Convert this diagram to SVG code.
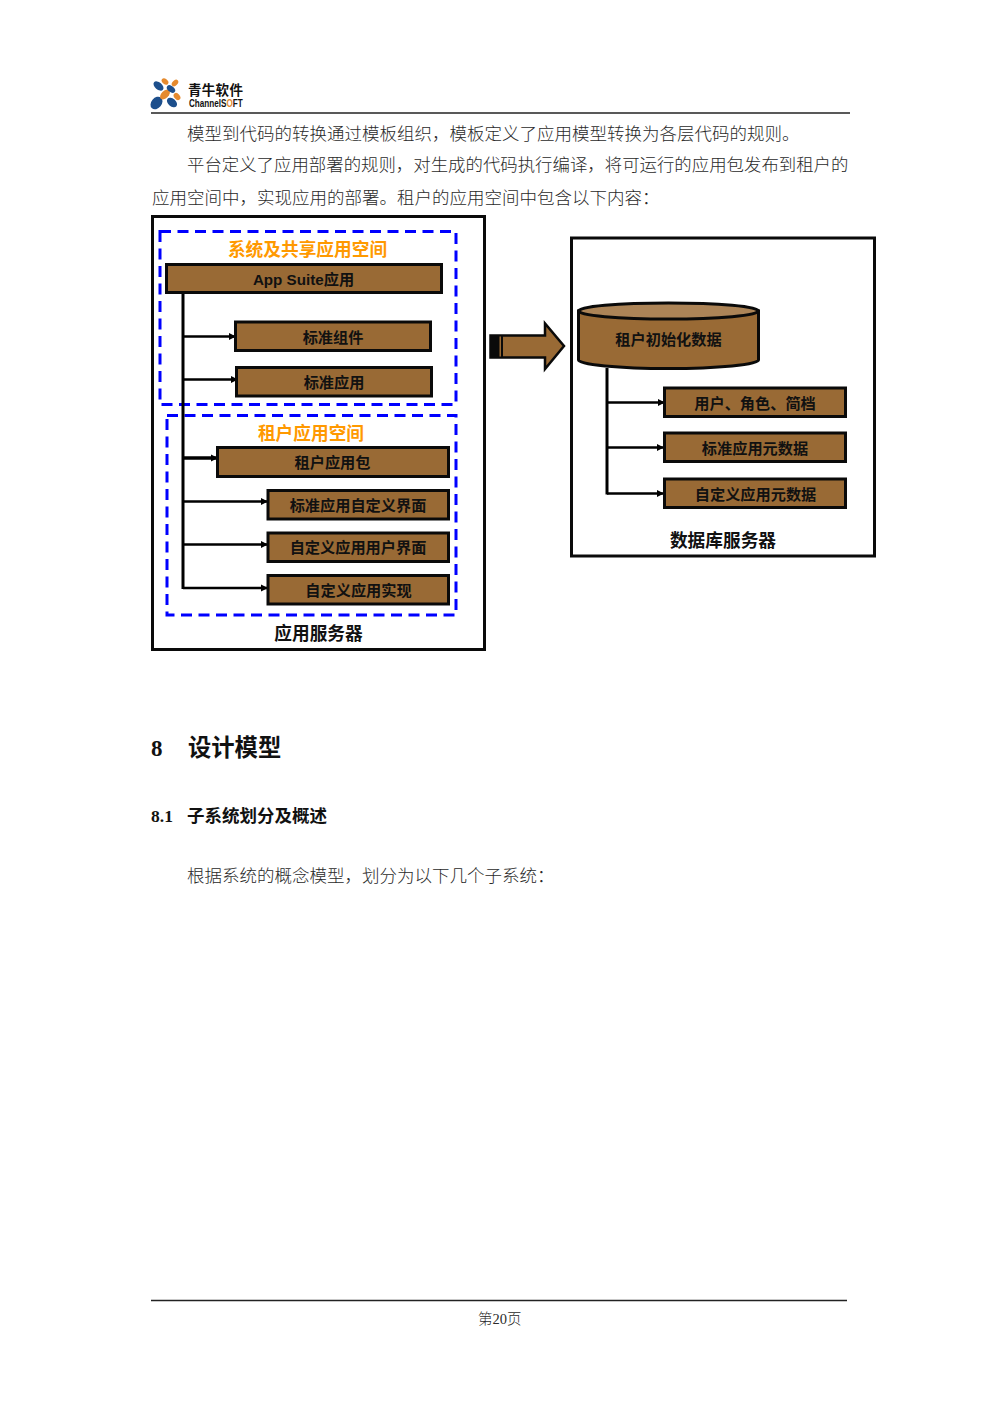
<svg xmlns="http://www.w3.org/2000/svg" width="1000" height="1415" viewBox="0 0 1000 1415">
<style>
text{font-family:"Liberation Sans","Noto Sans CJK SC",sans-serif;fill:#111}
.body{font-family:"Liberation Serif","Noto Sans CJK SC",serif;font-size:17.5px;fill:#2a2a2a;font-weight:300}
.serifb{font-family:"Liberation Serif","Noto Sans CJK SC",serif;font-weight:bold}
.b{font-weight:bold}
.m{font-size:15.2px;font-weight:bold;text-anchor:middle}
.t{font-size:17.7px;font-weight:bold;text-anchor:middle}
.o{fill:#ff9900}
.box{fill:#996a35;stroke:#0a0a0a;stroke-width:3}
.frame{fill:none;stroke:#0a0a0a;stroke-width:3}
.dash{fill:none;stroke:#0000ff;stroke-width:3;stroke-dasharray:11 6.5}
.conn{fill:none;stroke:#000;stroke-width:2.4}
.trunk{fill:none;stroke:#000;stroke-width:3}
.rule{stroke:#222;stroke-width:1.5}
</style>
<defs>
<marker id="ah" markerUnits="userSpaceOnUse" markerWidth="10" markerHeight="10" refX="8" refY="5" orient="auto">
<path d="M1 1.500 L8 5 L1 8.500 Z" fill="#000"/>
</marker>
</defs>
<rect width="1000" height="1415" fill="#fff"/>

<g id="header">
<g id="logo">
<ellipse cx="156.500" cy="103" rx="7" ry="5.200" transform="rotate(-50 156.500 103)" fill="#1d4f8c"/>
<ellipse cx="172" cy="102.500" rx="5.800" ry="3.800" transform="rotate(40 172 102.500)" fill="#1d4f8c"/>
<ellipse cx="165" cy="94.500" rx="6" ry="3.600" transform="rotate(-45 165 94.500)" fill="#e58a2e"/>
<ellipse cx="158.500" cy="86" rx="5.800" ry="3.600" transform="rotate(40 158.500 86)" fill="#1d4f8c"/>
<ellipse cx="171" cy="89" rx="4.800" ry="3" transform="rotate(40 171 89)" fill="#1d4f8c"/>
<ellipse cx="165" cy="81.500" rx="3.800" ry="2.600" transform="rotate(40 165 81.500)" fill="#e58a2e"/>
<ellipse cx="175" cy="83" rx="3.800" ry="2.600" transform="rotate(-45 175 83)" fill="#e58a2e"/>
<ellipse cx="177" cy="96.500" rx="4" ry="2.800" transform="rotate(50 177 96.500)" fill="#e58a2e"/>
<text x="188" y="95" font-size="13.500" class="b" letter-spacing="0.300">青牛软件</text>
<text transform="translate(189 107) scale(0.74 1)" font-size="11" class="b">ChannelS<tspan fill="#e58a2e">O</tspan>FT</text>
</g>
<line class="rule" x1="151" y1="113" x2="850" y2="113"/>
</g>

<g id="intro">
<text class="body" x="187" y="140">模型到代码的转换通过模板组织，模板定义了应用模型转换为各层代码的规则。</text>
<text class="body" x="187" y="171" style="font-size:17.42px">平台定义了应用部署的规则，对生成的代码执行编译，将可运行的应用包发布到租户的</text>
<text class="body" x="152" y="204">应用空间中，实现应用的部署。租户的应用空间中包含以下内容：</text>
</g>

<g id="app-server">
<rect class="frame" x="152.500" y="216.500" width="332" height="433"/>
<text class="t" x="318.500" y="640">应用服务器</text>
</g>
<g id="system-space">
<rect class="dash" x="160" y="231.500" width="296" height="173"/>
<text class="t o" x="307.500" y="255.500">系统及共享应用空间</text>
</g>
<g id="tenant-space">
<rect class="dash" x="167" y="415.500" width="289" height="199.500"/>
<text class="t o" x="311" y="440">租户应用空间</text>
</g>

<g id="connectors">
<path class="trunk" d="M183 293V589"/>
<path class="conn" marker-end="url(#ah)" d="M183 336.500H236"/>
<path class="conn" marker-end="url(#ah)" d="M183 379.500H238"/>
<path class="conn" style="stroke-width:3.500" marker-end="url(#ah)" d="M183 458H218"/>
<path class="conn" marker-end="url(#ah)" d="M183 501.500H268"/>
<path class="conn" marker-end="url(#ah)" d="M183 544.500H268"/>
<path class="conn" marker-end="url(#ah)" d="M183 588H268"/>
<path class="trunk" d="M607 368V494.500"/>
<path class="conn" marker-end="url(#ah)" d="M607 402.500H665"/>
<path class="conn" marker-end="url(#ah)" d="M607 447.500H664"/>
<path class="conn" marker-end="url(#ah)" d="M607 493.500H664"/>
<g id="deploy-arrow">
<path d="M490.500 335.500H545V323.500L564 346L545 369V357.500H490.500Z" fill="#996a35" stroke="#0a0a0a" stroke-width="2.500"/>
<rect x="490" y="335" width="13" height="23" fill="#0a0a0a"/>
<rect x="499.500" y="336.500" width="1.500" height="20" fill="#996a35"/>
</g>
</g>

<g id="n-appsuite"><rect class="box" x="166.500" y="264.500" width="275" height="28"/><text class="m" x="303.500" y="285">App Suite应用</text></g>
<g id="n-stdcomp"><rect class="box" x="235.500" y="322" width="195" height="28.500"/><text class="m" x="333" y="343">标准组件</text></g>
<g id="n-stdapp"><rect class="box" x="236.500" y="367.500" width="195" height="28.500"/><text class="m" x="334" y="388">标准应用</text></g>
<g id="n-tenantpkg"><rect class="box" x="217.500" y="447.500" width="231" height="29"/><text class="m" x="332.500" y="468">租户应用包</text></g>
<g id="n-stdui"><rect class="box" x="268" y="490.500" width="180.500" height="28.500"/><text class="m" x="358" y="511">标准应用自定义界面</text></g>
<g id="n-custui"><rect class="box" x="268" y="533" width="180.500" height="28.500"/><text class="m" x="358" y="553">自定义应用用户界面</text></g>
<g id="n-custimpl"><rect class="box" x="268" y="575.500" width="180.500" height="28.500"/><text class="m" x="358.500" y="596">自定义应用实现</text></g>

<g id="db-server">
<rect class="frame" x="571.500" y="238" width="303" height="318"/>
<text class="t" x="723" y="547">数据库服务器</text>
</g>
<g id="n-initdata">
<path d="M578.500 311V360C578.500 364.500 619 368.500 668.500 368.500S758.500 364.500 758.500 360V311Z" fill="#996a35" stroke="#0a0a0a" stroke-width="3"/>
<ellipse cx="668.500" cy="311" rx="90" ry="8" fill="#ac8457" stroke="#0a0a0a" stroke-width="3"/>
<text class="m" x="668.500" y="345">租户初始化数据</text>
</g>
<g id="n-users"><rect class="box" x="664.500" y="388" width="181" height="28.500"/><text class="m" x="755" y="409">用户、角色、简档</text></g>
<g id="n-stdmeta"><rect class="box" x="664.500" y="433" width="181" height="28.500"/><text class="m" x="755" y="454">标准应用元数据</text></g>
<g id="n-custmeta"><rect class="box" x="664.500" y="479" width="181" height="28.500"/><text class="m" x="755.500" y="500">自定义应用元数据</text></g>

<g id="section">
<text class="serifb" x="151" y="756" font-size="23">8</text>
<text class="serifb" x="188" y="756" font-size="23.300">设计模型</text>
<text class="serifb" x="151" y="822" font-size="17.500">8.1</text>
<text class="serifb" x="187" y="822" font-size="17.500">子系统划分及概述</text>
<text class="body" x="187" y="882">根据系统的概念模型，划分为以下几个子系统：</text>
</g>

<g id="footer">
<line class="rule" x1="151" y1="1300.500" x2="847" y2="1300.500"/>
<text class="body" x="478" y="1324" style="font-size:14.500px">第20页</text>
</g>
</svg>
